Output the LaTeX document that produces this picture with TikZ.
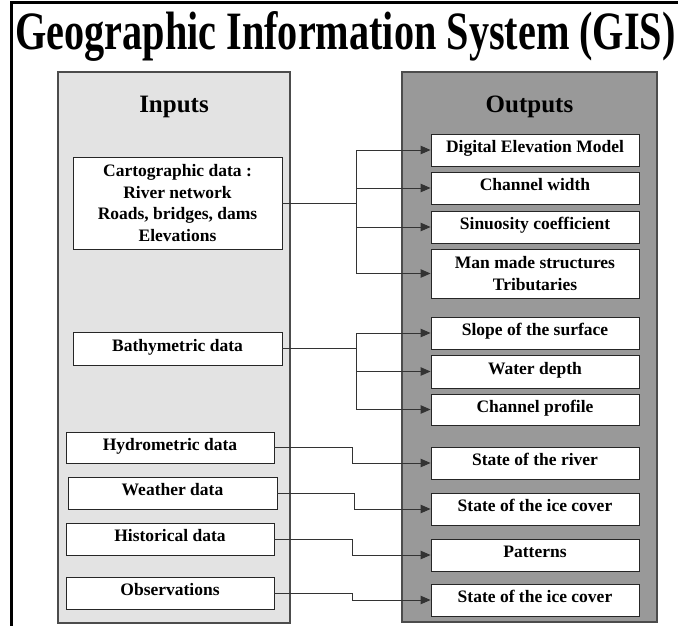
\documentclass[tikz,border=0pt]{standalone}
\usepackage{fontspec}
\setmainfont{Liberation Serif}
\usepackage{graphicx}
\usetikzlibrary{arrows.meta}
\definecolor{inpanel}{HTML}{E3E3E3}
\definecolor{outpanel}{HTML}{999999}
\tikzset{
    panel/.style={draw=black!70, line width=1.3pt, inner sep=0pt},
    databox/.style={draw=black!85, fill=white, line width=0.9pt, inner sep=0pt,
        font=\fontsize{17.5}{21.5}\selectfont\bfseries, align=center},
    oneline/.style={databox, text height=12pt, text depth=6.5pt},
    link/.style={draw=black!80, line width=0.9pt},
    >={Triangle[length=10pt,width=8.5pt]}
}

\begin{document}
\begin{tikzpicture}[x=1pt, y=-1pt]
    \useasboundingbox (0,0) rectangle (678,626);
    \draw[line width=3pt] (678,3) -- (11,3) -- (11,626);
    \node[anchor=base] (title) at (345.5,50)
        {\scalebox{0.745}[1]{\fontsize{54}{60}\selectfont\bfseries Geographic Information System (GIS)}};

    \node[panel, fill=inpanel, minimum width=232pt, minimum height=551pt] (inputs) at (174,347.5) {};
    \node[panel, fill=outpanel, minimum width=255pt, minimum height=550pt] (outputs) at (529.5,347) {};
    \node[anchor=base, font=\fontsize{25}{30}\selectfont\bfseries] (intitle) at (174,113) {Inputs};
    \node[anchor=base, font=\fontsize{25}{30}\selectfont\bfseries] (outtitle) at (529.5,113) {Outputs};

    %%%%%% inputs
    \node[databox, minimum width=209pt, minimum height=92pt] (carto) at (177.5,203)
        {Cartographic data :\\River network\\Roads, bridges, dams\\Elevations};
    \node[oneline, minimum width=209pt, minimum height=33pt] (bathy) at (177.5,348.5) {Bathymetric data};
    \node[oneline, minimum width=208pt, minimum height=31pt] (hydro) at (170,447.5) {Hydrometric data};
    \node[oneline, minimum width=209pt, minimum height=32pt] (weather) at (172.5,493) {Weather data};
    \node[oneline, minimum width=208pt, minimum height=32pt] (histo) at (170,539) {Historical data};
    \node[oneline, minimum width=208pt, minimum height=32pt] (obs) at (170,593) {Observations};

    %%%%%% outputs
    \node[oneline, minimum width=208pt, minimum height=32pt] (dem) at (535,150) {Digital Elevation Model};
    \node[oneline, minimum width=208pt, minimum height=32pt] (width) at (535,188) {Channel width};
    \node[oneline, minimum width=208pt, minimum height=32pt] (sinu) at (535,227) {Sinuosity coefficient};
    \node[databox, minimum width=208pt, minimum height=49pt] (manmade) at (535,273.5)
        {Man made structures\\Tributaries};
    \node[oneline, minimum width=208pt, minimum height=32pt] (slope) at (535,333) {Slope of the surface};
    \node[oneline, minimum width=208pt, minimum height=33pt] (depth) at (535,371.5) {Water depth};
    \node[oneline, minimum width=208pt, minimum height=31pt] (profile) at (535,409.5) {Channel profile};
    \node[oneline, minimum width=208pt, minimum height=32pt] (river) at (535,463) {State of the river};
    \node[oneline, minimum width=208pt, minimum height=32pt] (ice) at (535,509) {State of the ice cover};
    \node[oneline, minimum width=208pt, minimum height=32pt] (patterns) at (535,555) {Patterns};
    \node[oneline, minimum width=208pt, minimum height=32pt] (icetwo) at (535,600) {State of the ice cover};

    %%%%%% connectors
    \coordinate (cartoj) at (356,203);
    \draw[link] (carto.east) -- (cartoj);
    \draw[link, ->] (cartoj) |- (dem);
    \draw[link, ->] (cartoj) |- (width);
    \draw[link, ->] (cartoj) |- (sinu);
    \draw[link, ->] (cartoj) |- (manmade);

    \coordinate (bathyj) at (356,348.5);
    \draw[link] (bathy.east) -- (bathyj);
    \draw[link, ->] (bathyj) |- (slope);
    \draw[link, ->] (bathyj) |- (depth);
    \draw[link, ->] (bathyj) |- (profile);

    \coordinate (hydroj) at (352,463);
    \draw[link, ->] (hydro.east) -| (hydroj) -- (river);
    \coordinate (weatherj) at (354,509);
    \draw[link, ->] (weather.east) -| (weatherj) -- (ice);
    \coordinate (histoj) at (352,555);
    \draw[link, ->] (histo.east) -| (histoj) -- (patterns);
    \coordinate (obsj) at (352,600);
    \draw[link, ->] (obs.east) -| (obsj) -- (icetwo);

\end{tikzpicture}
\end{document}
